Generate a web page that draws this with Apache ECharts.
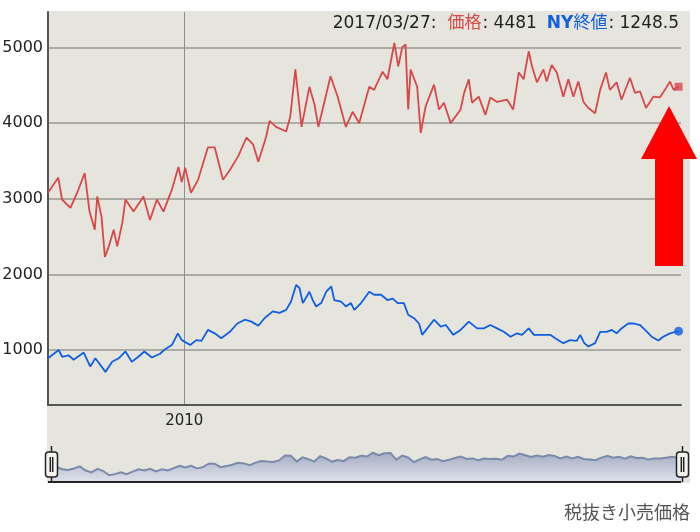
<!DOCTYPE html>
<html><head><meta charset="utf-8">
<script src="https://cdn.jsdelivr.net/npm/echarts@6/dist/echarts.min.js"></script>
<style>html,body{margin:0;padding:0;background:#fff}#c{width:700px;height:532px}</style>
</head><body><div id="c"></div>
<script>
// 価格 (retail price, yen/g)
const priceDates = [
 '2008-01-04','2008-02-28','2008-03-19','2008-05-03','2008-06-08','2008-07-18','2008-08-13','2008-09-10','2008-09-23','2008-10-16','2008-11-03','2008-11-24','2008-12-20',
 '2009-01-08','2009-02-04','2009-02-21','2009-04-05','2009-05-28','2009-07-02','2009-08-08','2009-09-12','2009-10-27','2009-12-01','2009-12-19',
 '2010-01-06','2010-02-06','2010-03-16','2010-05-08','2010-06-13','2010-07-27','2010-09-02','2010-10-16','2010-11-30',
 '2011-01-04','2011-02-01','2011-03-15','2011-04-02','2011-05-07','2011-06-30','2011-07-22','2011-08-18','2011-08-28','2011-09-20','2011-11-01','2011-11-28','2011-12-19',
 '2012-02-22','2012-03-31','2012-05-14','2012-06-19','2012-07-24','2012-09-16','2012-10-12','2012-11-26','2012-12-22',
 '2013-01-28','2013-02-18','2013-03-11','2013-03-29','2013-04-12','2013-04-25','2013-05-30','2013-06-18','2013-07-14','2013-08-28','2013-09-24','2013-10-20','2013-11-25',
 '2014-01-17','2014-02-05','2014-03-02','2014-03-19','2014-04-24','2014-05-30','2014-06-25','2014-07-31','2014-09-23','2014-10-25','2014-11-24','2014-12-20',
 '2015-01-16','2015-02-03','2015-03-01','2015-04-05','2015-04-22','2015-05-19','2015-06-15','2015-07-20','2015-08-16','2015-09-12','2015-10-08','2015-11-05','2015-12-01',
 '2016-01-06','2016-02-02','2016-03-04','2016-03-25','2016-04-30','2016-05-26','2016-07-10','2016-08-06','2016-09-02','2016-10-04','2016-11-12','2016-12-17',
 '2017-01-13','2017-02-09','2017-03-01','2017-03-27'
];
const priceValues = [
 3080,3280,2990,2880,3080,3340,2830,2590,3030,2760,2230,2370,2590,
 2370,2680,2990,2830,3030,2720,2990,2830,3120,3420,3220,
 3410,3080,3250,3680,3680,3250,3380,3560,3810,
 3720,3490,3820,4030,3950,3890,4090,4710,4690,3950,4480,4250,3950,
 4620,4350,3950,4150,4000,4480,4440,4680,4580,
 5060,4750,5000,5040,4180,4710,4480,3870,4220,4510,4180,4270,4000,
 4180,4400,4580,4270,4350,4110,4340,4280,4310,4180,4670,4580,
 4950,4750,4540,4710,4550,4770,4670,4350,4580,4350,4550,4280,4200,
 4130,4440,4670,4440,4540,4310,4600,4400,4420,4200,4350,4340,
 4440,4550,4440,4481
];
// NY終値 (NY close, USD/oz)
const nyDates = [
 '2008-01-04','2008-03-01','2008-03-20','2008-04-23','2008-05-20','2008-07-13','2008-08-17','2008-09-13','2008-10-01','2008-11-06','2008-12-12',
 '2009-01-16','2009-02-21','2009-03-27','2009-05-01','2009-06-02','2009-07-12','2009-08-25','2009-09-21','2009-10-27','2009-11-28','2009-12-19',
 '2010-02-02','2010-03-07','2010-04-03','2010-05-08','2010-06-13','2010-07-18','2010-09-02','2010-10-12','2010-11-21','2010-12-26',
 '2011-02-01','2011-03-06','2011-04-19','2011-05-25','2011-06-30','2011-07-26','2011-08-22','2011-09-09','2011-09-27','2011-11-01','2011-11-19','2011-12-07',
 '2012-01-03','2012-01-30','2012-02-26','2012-03-13','2012-04-18','2012-05-14','2012-06-10','2012-06-28','2012-08-03','2012-09-16','2012-10-12','2012-11-18','2012-12-22',
 '2013-01-19','2013-02-15','2013-03-20','2013-04-12','2013-05-13','2013-06-09','2013-06-26','2013-07-23','2013-08-28','2013-10-03','2013-10-30','2013-12-09',
 '2014-01-17','2014-03-02','2014-04-15','2014-05-21','2014-06-25','2014-07-31','2014-09-05','2014-10-11','2014-11-15','2014-12-11',
 '2015-01-16','2015-02-13','2015-03-27','2015-05-11','2015-06-07','2015-07-20','2015-08-25','2015-09-30','2015-10-18','2015-11-09','2015-12-01',
 '2016-01-06','2016-02-02','2016-03-08','2016-04-04','2016-04-30','2016-05-26','2016-07-01','2016-07-28','2016-09-02','2016-09-29','2016-11-03','2016-12-09',
 '2017-01-04','2017-02-09','2017-03-27'
];
const nyValues = [
 890,1000,910,930,870,965,780,890,830,710,845,
 890,980,845,910,980,900,950,1010,1065,1220,1130,
 1065,1130,1120,1265,1220,1155,1240,1350,1400,1375,
 1320,1420,1510,1490,1530,1640,1860,1820,1620,1770,1660,1575,
 1620,1770,1840,1660,1640,1575,1620,1530,1620,1770,1730,1730,1660,
 1680,1620,1620,1465,1420,1350,1200,1285,1400,1310,1330,1200,
 1265,1375,1285,1285,1330,1285,1240,1175,1220,1200,
 1285,1200,1200,1200,1155,1090,1130,1120,1200,1090,1045,
 1090,1240,1240,1265,1220,1285,1350,1350,1330,1265,1175,1125,
 1175,1220,1248.5
];
const yTicks = [1000, 2000, 3000, 4000, 5000];
const xTicks = ['2010-01-01'];
const xRange = ['2008-01-04', '2017-04-09'];
const seriesNames = ['価格', 'NY終値'];
const footnote = '税抜き小売価格';

const RED = '#d84848', BLUE = '#0f5fe0';
const FONT = '"DejaVu Sans","Noto Sans CJK JP",sans-serif';
const ts = s => Date.parse(s + 'T00:00:00Z');
const zip = (d, v) => d.map((x, i) => [ts(x), v[i]]);
const lastP = priceValues[priceValues.length - 1];
const lastN = nyValues[nyValues.length - 1];
const lastDate = priceDates[priceDates.length - 1];

const chart = echarts.init(document.getElementById('c'), null, {renderer: 'canvas'});
const shadowArea = new echarts.graphic.LinearGradient(0, 0, 0, 1, [
  {offset: 0, color: '#dfe2ec'}, {offset: 1, color: '#a6adc3'}]);
const TS = 17;
chart.setOption({
  animation: false,
  backgroundColor: '#ffffff',
  grid: {left: 48, top: 12, right: 19, bottom: 127, containLabel: false, outerBoundsMode: 'none'},
  xAxis: {
    type: 'value', min: ts(xRange[0]), max: ts(xRange[1]), scale: true,
    axisLine: {lineStyle: {color: '#555', width: 2}},
    axisTick: {show: false, customValues: xTicks.map(ts)},
    axisLabel: {customValues: xTicks.map(ts), formatter: v => String(new Date(v).getUTCFullYear()),
      color: '#222', fontSize: 15, fontFamily: FONT, margin: 9},
    splitLine: {show: true, lineStyle: {color: '#8e8e8a', width: 1}}
  },
  yAxis: {
    type: 'value', min: 272, max: 5470,
    axisLine: {show: true, lineStyle: {color: '#555', width: 2}},
    axisTick: {show: false, customValues: yTicks},
    axisLabel: {customValues: yTicks, formatter: v => String(v), color: '#222', fontSize: 16, fontFamily: FONT, margin: 5},
    splitLine: {show: true, lineStyle: {color: '#acaba4', width: 2}}
  },
  dataZoom: [{
    type: 'slider', xAxisIndex: 0, start: 0, end: 100, filterMode: 'none',
    left: 48, right: 19, top: 446, height: 36,
    showDetail: false, brushSelect: false, moveHandleSize: 0,
    borderColor: 'transparent', backgroundColor: 'transparent', fillerColor: 'rgba(0,0,0,0)',
    handleIcon: 'path://M6,0 V5 M3,5 H9 A3,3 0 0 1 12,8 V27 A3,3 0 0 1 9,30 H3 A3,3 0 0 1 0,27 V8 A3,3 0 0 1 3,5 Z M6,30 V36 M4.8,10 V25 M7.2,10 V25',
    handleSize: '100%',
    handleStyle: {color: '#f3f3ef', borderColor: '#222', borderWidth: 1.5},
    emphasis: {handleStyle: {color: '#f3f3ef', borderColor: '#222', borderWidth: 1.5}},
    dataBackground: {lineStyle: {color: '#7b8aab', width: 2, opacity: 1}, areaStyle: {color: shadowArea, opacity: 1}},
    selectedDataBackground: {lineStyle: {color: '#7b8aab', width: 2, opacity: 1}, areaStyle: {color: shadowArea, opacity: 1}}
  }],
  series: [
    {name: seriesNames[0], type: 'line', data: zip(priceDates, priceValues), showSymbol: false,
     lineStyle: {color: RED, width: 1.8}, itemStyle: {color: RED}, z: 3},
    {name: seriesNames[1], type: 'line', data: zip(nyDates, nyValues), showSymbol: false,
     lineStyle: {color: BLUE, width: 1.8}, itemStyle: {color: BLUE}, z: 3},
    {type: 'scatter', data: [[ts(lastDate), lastP]], symbol: 'rect', symbolSize: 8, itemStyle: {color: RED}, z: 4},
    {type: 'scatter', data: [[ts(lastDate), lastN]], symbol: 'circle', symbolSize: 9, itemStyle: {color: BLUE}, z: 4}
  ],
  graphic: [
    {type: 'rect', silent: true, z: -10, shape: {x: 47, y: 11, width: 643, height: 472}, style: {fill: '#e5e5de'}},
    {type: 'line', silent: true, z: 50, shape: {x1: 48, y1: 482, x2: 681, y2: 482}, style: {stroke: '#222', lineWidth: 2}},
    {type: 'text', silent: true, z: 60, x: 679, y: 24, style: {
      text: '{d|' + lastDate.replace(/-/g, '/') + ':}{r|' + seriesNames[0] + '}{d|: ' + lastP + '}{b|NY}{c|終値}{d|: ' + lastN + '}',
      align: 'right', verticalAlign: 'middle', fontSize: TS, fontFamily: FONT, fill: '#222',
      rich: {
        d: {fontSize: TS, fontFamily: FONT, fill: '#222'},
        r: {fontSize: TS, fontFamily: FONT, fill: RED, padding: [0, 1, 0, 11]},
        b: {fontSize: TS, fontFamily: FONT, fill: BLUE, fontWeight: 'bold', padding: [0, 0, 0, 10]},
        c: {fontSize: TS, fontFamily: FONT, fill: BLUE, padding: [0, 1, 0, 0]}
      }}},
    {type: 'polygon', silent: true, z: 100, shape: {points: [[669, 106], [697, 159], [683, 159], [683, 266], [655, 266], [655, 159], [641, 159]]}, style: {fill: '#ff0000'}},
    {type: 'text', silent: true, z: 60, x: 690, y: 512, style: {text: footnote, align: 'right', verticalAlign: 'middle',
      fontSize: 18, fontFamily: '"Noto Sans CJK JP",sans-serif', fill: '#555'}}
  ]
});
</script></body></html>
